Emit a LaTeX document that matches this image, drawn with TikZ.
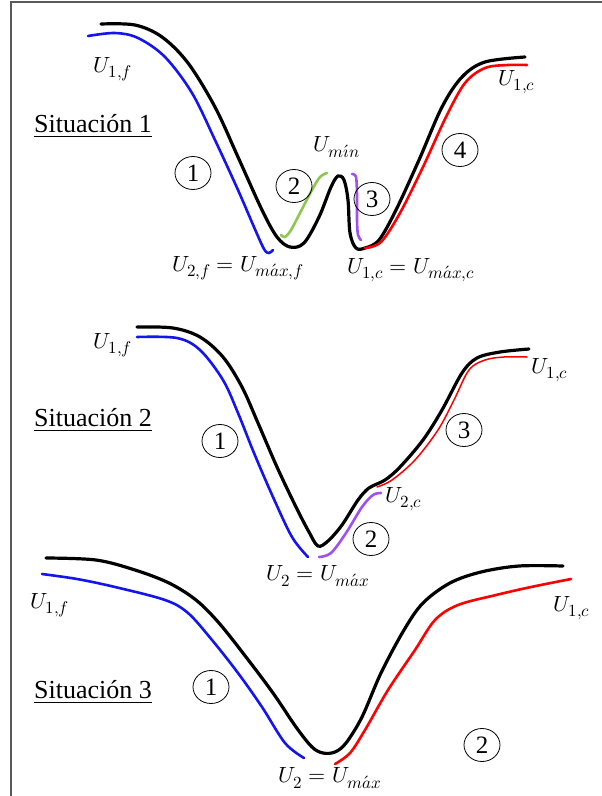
\documentclass[tikz,border=0pt]{standalone}
\usepackage{fontspec}
\usepackage{unicode-math}
\usetikzlibrary{shapes.geometric}
\setmainfont{Liberation Serif}
\setmathfont{Latin Modern Math}
\DeclareMathSizes{22}{22}{17}{13}
\definecolor{azul}{RGB}{20,20,240}
\definecolor{verde}{RGB}{140,200,80}
\definecolor{morado}{RGB}{160,80,240}
\definecolor{rojo}{RGB}{255,0,0}
\begin{document}
\begin{tikzpicture}[x=1pt, y=-1pt]
\tikzstyle{frame} = [draw=black!65, line width=1.5pt]
\tikzstyle{pot}   = [line width=3.2pt, line cap=round]
\tikzstyle{tramo} = [line width=2.6pt, line cap=round]
\tikzstyle{num}   = [ellipse, draw=black, line width=0.8pt, minimum width=36pt, minimum height=33pt, inner sep=0pt, font=\fontsize{25}{25}\selectfont]
\tikzstyle{lbl}   = [inner sep=1pt, font=\fontsize{22}{26}\selectfont]
\tikzstyle{sit}   = [inner sep=1pt, font=\fontsize{26}{30}\selectfont]

\useasboundingbox (0,0) rectangle (602,796);
\draw [frame] (602,2) -- (11,2) -- (11,796);

% Situacion 1
\draw [pot] plot [smooth, tension=0.55] coordinates {(101,24) (135,25) (162,37) (188,63) (215,107) (238,157) (262,210) (277,237) (290,247) (304,243) (319,217) (331,187) (338,176) (344,180) (348,200) (350,233) (356,248) (365,248) (379,240) (396,210) (419,160) (442,107) (462,77) (485,62) (525,57)};
\draw [tramo, azul] plot [smooth, tension=0.55] coordinates {(88,36) (115,33) (138,38) (165,57) (192,93) (215,140) (238,190) (254,227) (264,249) (269,253) (273,250)};
\draw [tramo, verde] plot [smooth, tension=0.55] coordinates {(281,235) (285,237) (291,230) (300,213) (312,190) (320,177) (327,173)};
\draw [tramo, morado] plot [smooth, tension=0.55] coordinates {(352,174) (356,177) (357,195) (357,220) (358,235) (361,240)};
\draw [tramo, rojo] plot [smooth, tension=0.55] coordinates {(365,248) (381,242) (400,213) (423,167) (446,117) (465,83) (485,68) (508,65) (527,65)};

\node (sit1)  [sit] at (93,126)  {\underline{Situación 1}};
\node (u1f1)  [lbl] at (113,69)  {$U_{1,f}$};
\node (u1c1)  [lbl] at (517,82)  {$U_{1,c}$};
\node (umin)  [lbl] at (337,147) {$U_{m\acute{\imath}n}$};
\node (u2f1)  [lbl] at (238,268) {$U_{2,f}=U_{m\acute{a}x,f}$};
\node (umc1)  [lbl] at (411,270) {$U_{1,c}=U_{m\acute{a}x,c}$};
\node (n11)   [num] at (193,173) {1};
\node (n12)   [num] at (294,186) {2};
\node (n13)   [num] at (372,199) {3};
\node (n14)   [num] at (460,150) {4};

% Situacion 2
\draw [pot] plot [smooth, tension=0.55] coordinates {(137,327) (173,328) (200,337) (223,357) (242,387) (258,423) (277,467) (296,507) (309,532) (318,546) (328,541) (342,525) (358,500) (369,488) (385,480) (400,467) (423,440) (442,410) (462,373) (477,358) (500,352) (529,349)};
\draw [tramo, azul] plot [smooth, tension=0.55] coordinates {(137,337) (177,338) (200,350) (223,380) (238,413) (254,453) (273,497) (292,537) (308,557)};
\draw [tramo, morado] plot [smooth, tension=0.55] coordinates {(319,557) (331,553) (346,533) (362,507) (373,495) (381,493)};
\draw [line width=1.5pt, line cap=round, rojo] plot [smooth, tension=0.55] coordinates {(377,487) (392,480) (415,460) (438,430) (454,400) (469,370) (485,360) (504,357) (527,357)};

\node (sit2)  [sit] at (93,420)  {\underline{Situación 2}};
\node (u1f2)  [lbl] at (113,345) {$U_{1,f}$};
\node (u1c2)  [lbl] at (550,370) {$U_{1,c}$};
\node (u2c2)  [lbl] at (404,499) {$U_{2,c}$};
\node (umx2)  [lbl] at (318,576) {$U_{2}=U_{m\acute{a}x}$};
\node (n21)   [num] at (220,441) {1};
\node (n22)   [num] at (371,539) {2};
\node (n23)   [num] at (464,430) {3};

% Situacion 3
\draw [pot] plot [smooth, tension=0.55] coordinates {(46,558) (96,560) (135,570) (169,583) (196,600) (219,623) (246,657) (273,693) (296,727) (312,747) (323,753) (335,752) (346,743) (362,717) (381,673) (404,630) (423,603) (450,583) (481,572) (519,566) (563,566)};
\draw [tramo, azul] plot [smooth, tension=0.55] coordinates {(42,574) (77,579) (115,587) (165,600) (188,613) (212,640) (238,673) (262,707) (285,743) (304,758)};
\draw [tramo, rojo] plot [smooth, tension=0.55] coordinates {(335,764) (350,753) (365,730) (388,690) (415,650) (435,620) (458,605) (496,595) (531,587) (571,579)};

\node (sit3)  [sit] at (93,692)  {\underline{Situación 3}};
\node (u1f3)  [lbl] at (50,605)  {$U_{1,f}$};
\node (u1c3)  [lbl] at (572,608) {$U_{1,c}$};
\node (umx3)  [lbl] at (330,778) {$U_{2}=U_{m\acute{a}x}$};
\node (n31)   [num] at (211,687) {1};
\node (n32)   [num] at (482,745) {2};
\end{tikzpicture}
\end{document}
